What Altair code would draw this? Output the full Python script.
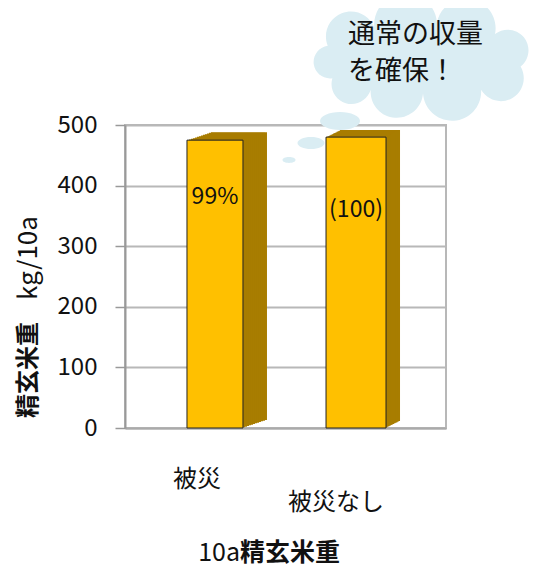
import altair as alt
import pandas as pd

# ---- data ----
categories = ["被災", "被災なし"]
yields = [475, 480]
bar_labels = ["99%", "(100)"]
y_ticks = [0, 100, 200, 300, 400, 500]

df = pd.DataFrame({"cat": categories, "val": yields, "lab": bar_labels})

FONT = "Noto Sans CJK JP"
FRONT = "#FFC000"
SIDE = "#A87D00"
CLOUD = "#DAEDF3"

xs = alt.X("cat:N", sort=categories,
           scale=alt.Scale(paddingInner=0.5, paddingOuter=0.388),
           axis=alt.Axis(labels=False, ticks=False, title=None,
                         domainColor="#AAAAAA", domainWidth=2))
ys = alt.Y("val:Q", scale=alt.Scale(domain=[0, 500]),
           axis=alt.Axis(values=y_ticks, title=None, grid=True,
                         gridColor="#B8B8B8", gridWidth=2,
                         domainColor="#999999", domainWidth=2,
                         tickColor="#999999", tickSize=10, tickWidth=1.5,
                         labelFontSize=24, labelColor="#111111",
                         labelPadding=18, labelFont=FONT))

base = alt.Chart(df)
layers = []

# per-category 3D style (perspective: depth and face width differ)
style = {
    "被災":   {"size": 56, "dx": 24, "dy": -8, "label_dy": 57, "cat_dx": -18, "cat_y": 355},
    "被災なし": {"size": 60, "dx": 14, "dy": -7, "label_dy": 73, "cat_dx": -20, "cat_y": 378},
}

for c in categories:
    s = style[c]
    sub = base.transform_filter(alt.datum.cat == c)
    steps = 12
    for k in range(steps, 0, -1):
        layers.append(sub.mark_bar(size=s["size"], color=SIDE,
                                   xOffset=s["dx"] * k / steps, yOffset=s["dy"] * k / steps)
                      .encode(x=xs, y=ys))
    layers.append(sub.mark_bar(size=s["size"], color=FRONT, stroke="#222222", strokeWidth=1)
                  .encode(x=xs, y=ys))
    layers.append(sub.mark_text(dy=s["label_dy"], fontSize=23, font=FONT, color="#111111")
                  .encode(x=xs, y=ys, text="lab:N"))
    layers.append(sub.mark_text(dx=s["cat_dx"], fontSize=24, font=FONT, color="#111111")
                  .encode(x=xs, y=alt.value(s["cat_y"]), text="cat:N"))


def txt(s, x, y, **kw):
    return alt.Chart(pd.DataFrame({"t": [s]})).mark_text(font=FONT, color="#111111", **kw).encode(
        x=alt.value(x), y=alt.value(y), text="t:N")


# y title (mixed weight)
layers.append(txt("精玄米重", -96, 245, angle=270, fontSize=24, fontWeight="bold"))
layers.append(txt("kg/10a", -96, 133, angle=270, fontSize=26))

# x title (mixed weight)
layers.append(txt("10a", 115, 428, align="right", fontSize=25))
layers.append(txt("精玄米重", 115, 428, align="left", fontSize=25, fontWeight="bold"))

# thought cloud
cloud_path = ("M -0.78 0.20 A 0.01 0.01 0 0 1 -0.82 -0.08 "
              "A 0.01 0.01 0 0 1 -0.42 -0.24 "
              "A 0.01 0.01 0 0 1 0.12 -0.28 "
              "A 0.01 0.01 0 0 1 0.62 -0.18 "
              "A 0.01 0.01 0 0 1 0.84 0.10 "
              "A 0.01 0.01 0 0 1 0.50 0.30 "
              "A 0.01 0.01 0 0 1 0.0 0.33 "
              "A 0.01 0.01 0 0 1 -0.45 0.30 "
              "A 0.01 0.01 0 0 1 -0.78 0.20 Z")
ellipse = "M -1 0 A 1 0.45 0 1 1 1 0 A 1 0.45 0 1 1 -1 0 Z"
one = pd.DataFrame({"t": [""]})


def blob(shape, x, y, size):
    return alt.Chart(one).mark_point(shape=shape, filled=True, color=CLOUD, opacity=1,
                                     strokeWidth=0).encode(
        x=alt.value(x), y=alt.value(y), size=alt.value(size))


layers.append(blob(cloud_path, 298, -70, 54000))
layers.append(blob(ellipse, 215, -4, 1600))
layers.append(blob(ellipse, 186, 18, 729))
layers.append(blob(ellipse, 164, 35, 169))
layers.append(txt("通常の収量", 223, -90, align="left", fontSize=27))
layers.append(txt("を確保！", 223, -53, align="left", fontSize=27))

chart = alt.layer(*layers).properties(
    width=321, height=303,
    autosize=alt.AutoSizeParams(type="none"),
    padding={"left": 117, "top": 117, "right": 95, "bottom": 142},
).configure_view(stroke="#B8B8B8", strokeWidth=2)

chart.save("out.html", embed_options={"renderer": "svg", "actions": False})
